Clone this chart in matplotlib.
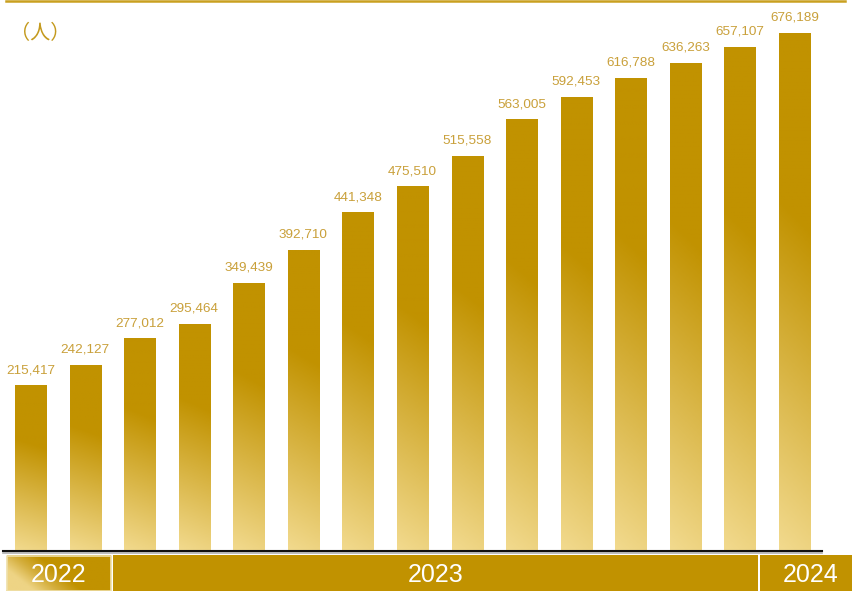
import numpy as np
import matplotlib.pyplot as plt
from matplotlib.colors import LinearSegmentedColormap

# monthly cumulative headcount
values = [215417, 242127, 277012, 295464, 349439, 392710, 441348, 475510,
          515558, 563005, 592453, 616788, 636263, 657107, 676189]
years = ['2022', '2023', '2024']
year_spans = [(0, 2), (2, 14), (14, 15)]  # bar index ranges per year
unit_label = '（人）'

gold = '#C19200'
light = '#F2DA8E'
label_color = '#C9A03A'

plt.rcParams['font.family'] = ['Liberation Sans', 'DejaVu Sans']

W, H = 853, 591
fig = plt.figure(figsize=(W / 100, H / 100), dpi=100)

# main bar area: pixel rows 1..551
ax = fig.add_axes([0, (H - 551) / H, 1, 550 / H])
step = 54.57
x0 = 30.5
ax.set_xlim(-x0 / step, (W - x0) / step)
ymax = 718000
ax.set_ylim(0, ymax)
ax.axis('off')

cmap = LinearSegmentedColormap.from_list('bar', [(0, gold), (0.32, gold), (1, light)])
width = 0.57
for i, v in enumerate(values):
    # vertical gradient with a slight diagonal tilt toward the bottom-left
    ty = np.linspace(0, 1, 200)[:, None]
    tx = np.linspace(0, 1, 20)[None, :]
    grad = np.clip(ty - 0.06 * tx, 0, 1)
    ax.imshow(grad, cmap=cmap, vmin=0, vmax=1, aspect='auto',
              extent=[i - width / 2, i + width / 2, 0, v],
              interpolation='bilinear', zorder=2)
    ax.annotate(f'{v:,}', (i, v), xytext=(0, 7), textcoords='offset points',
                ha='center', va='bottom', fontsize=9.7, color=label_color)
ax.set_xlim(-x0 / step, (W - x0) / step)
ax.set_ylim(0, ymax)

# frame lines
fig.add_artist(plt.Line2D([6 / W, 845 / W], [1 - 1.2 / H] * 2, color='#C9A020', lw=1.8))
fig.add_artist(plt.Line2D([3 / W, 822 / W], [1 - 553 / H] * 2, color='#B0B0B0', lw=1.2))
fig.add_artist(plt.Line2D([3 / W, 822 / W], [1 - 551.3 / H] * 2, color='#111111', lw=1.5))

fig.text(10 / W, 1 - 34 / H, unit_label, color='#C49A1E', fontsize=14.5,
         family=['Noto Sans CJK JP', 'DejaVu Sans'], va='center', ha='left')

# year band underneath
bx = fig.add_axes([0, 0, 1, (H - 555) / H])
bx.set_xlim(0, W)
bx.set_ylim(0, H - 555)
bx.axis('off')
edges = [7, 112, 759, W + 2]
for k, (yr, (a, b)) in enumerate(zip(years, year_spans)):
    left, right = edges[k] + (0 if k == 0 else 1), edges[k + 1] - 1
    if k == 0:
        gx = np.linspace(0, 1, 60)[None, :]
        gy = np.linspace(0, 1, 20)[:, None]
        g = np.clip(1 - (gx * 1.4 + (1 - gy) * 0.6) + 0.35, 0, 1)
        band_cmap = LinearSegmentedColormap.from_list('band', [gold, gold, '#D4AE3C', '#EED485'])
        bx.imshow(g, cmap=band_cmap, vmin=0, vmax=1, aspect='auto', origin='upper',
                  extent=[left, right, 0, H - 555], interpolation='bilinear')
        bx.plot([left, right, right, left, left], [0, 0, H - 555.5, H - 555.5, 0],
                color='#EFDFA8', lw=1.2)
    else:
        bx.fill_between([left, right], 0, H - 555, color=gold, lw=0)
    bx.text((left + right) / 2 if k != 2 else 811, (H - 555) / 2 - 2, yr,
            color='white', fontsize=18, ha='center', va='center')
bx.set_xlim(0, W)
bx.set_ylim(0, H - 555)

fig.savefig('out.png', dpi=100)
